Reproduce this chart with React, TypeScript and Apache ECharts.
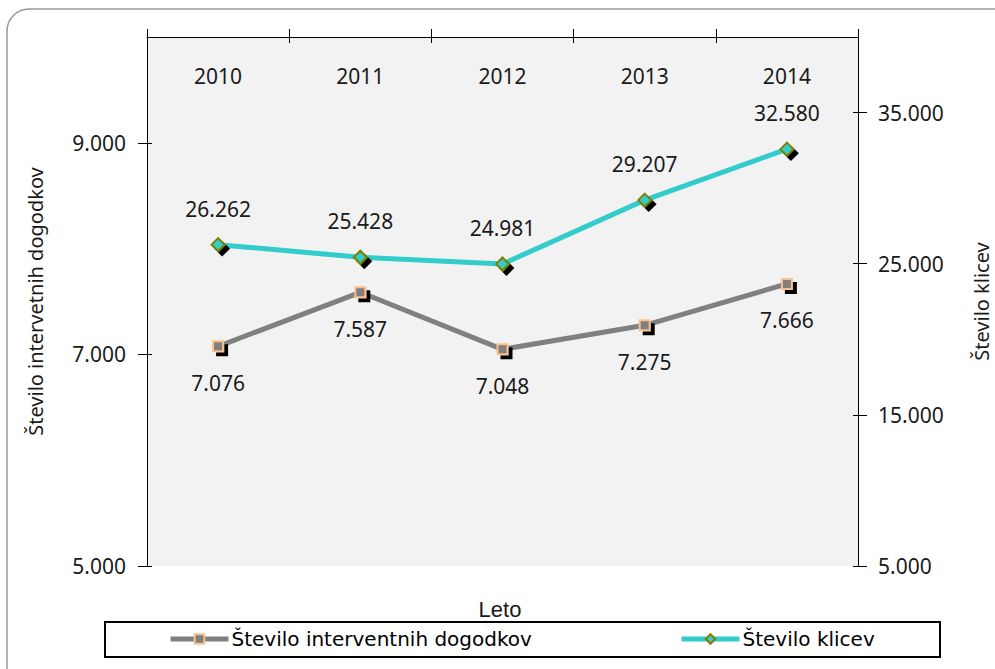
import React, { useEffect, useRef } from "react";
import * as echarts from "echarts";

const years = ["2010", "2011", "2012", "2013", "2014"];
const interventions = [7076, 7587, 7048, 7275, 7666];
const calls = [26262, 25428, 24981, 29207, 32580];
const leftTicks = [5000, 7000, 9000];
const rightTicks = [5000, 15000, 25000, 35000];

const seriesNames = ["Število interventnih dogodkov", "Število klicev"];
const leftAxisName = "Število intervetnih dogodkov";
const rightAxisName = "Število klicev";
const xAxisTitle = "Leto";

const fmt = (v: number) => String(Math.round(v)).replace(/\B(?=(\d{3})+(?!\d))/g, ".");

const FONT = "Noto Sans";
const TXT = "#1a1a1a";
const FS = 21;

export default function App() {
  const ref = useRef<HTMLDivElement>(null);
  useEffect(() => {
    if (!ref.current) return;
    const chart = echarts.init(ref.current, null, { renderer: "svg" });
    const yBase = (pos: "left" | "right", min: number, max: number, ticks: number[], inside: boolean, name?: string) => ({
      type: "value",
      position: pos,
      min,
      max,
      name: inside ? undefined : name,
      nameLocation: "middle",
      nameGap: pos === "left" ? 102 : 113,
      nameRotate: 90,
      nameTextStyle: { fontFamily: FONT, fontSize: 20, color: TXT },
      splitLine: { show: false },
      axisLine: { show: !inside, lineStyle: { color: "#000", width: 1 } },
      axisTick: { show: true, inside, length: inside ? 5 : 9, customValues: ticks, lineStyle: { color: "#000", width: 1 } },
      axisLabel: {
        show: !inside,
        customValues: ticks,
        formatter: (v: number) => fmt(v),
        margin: pos === "left" ? 21 : 20,
        fontFamily: FONT,
        fontSize: FS,
        color: TXT,
      },
    });
    const legendCommon = {
      top: 629,
      itemWidth: 58,
      itemHeight: 12,
      itemGap: 0,
      padding: 0,
      textStyle: { fontFamily: "DejaVu Sans", fontSize: 20, color: "#000", padding: [0, 0, 0, -2] },
      lineStyle: { width: 5 },
      itemStyle: { shadowBlur: 0, shadowOffsetX: 0, shadowOffsetY: 0, shadowColor: "rgba(0,0,0,0)" },
    };
    const option: any = {
      animation: false,
      backgroundColor: "#fff",
      grid: {
        left: 147,
        right: 137,
        top: 37,
        bottom: 103,
        show: true,
        backgroundColor: "#f2f2f2",
        borderWidth: 0,
        containLabel: false,
        outerBoundsMode: "none",
      },
      xAxis: [
        {
          type: "category",
          data: years,
          position: "top",
          boundaryGap: true,
          axisLine: { show: true, lineStyle: { color: "#000", width: 1 } },
          axisTick: { show: true, length: 8, lineStyle: { color: "#000" } },
          axisLabel: { inside: true, margin: 28, fontFamily: FONT, fontSize: FS, color: TXT },
          splitLine: { show: false },
        },
        {
          type: "category",
          data: years,
          position: "top",
          boundaryGap: true,
          axisLine: { show: false },
          axisTick: { show: true, inside: true, length: 6, lineStyle: { color: "#000" } },
          axisLabel: { show: false },
          splitLine: { show: false },
        },
      ],
      yAxis: [
        yBase("left", 5000, 10000, leftTicks, false, leftAxisName),
        yBase("right", 5000, 40000, rightTicks, false, rightAxisName),
        yBase("left", 5000, 10000, leftTicks, true),
        yBase("right", 5000, 40000, rightTicks, true),
      ],
      legend: [
        { ...legendCommon, data: [seriesNames[0]], left: 168 },
        { ...legendCommon, data: [seriesNames[1]], left: 679 },
      ],
      graphic: [
        {
          type: "rect",
          z: -10,
          shape: { x: 7, y: 9, width: 1020, height: 720, r: 22 },
          style: { fill: "transparent", stroke: "#999999", lineWidth: 1.5 },
        },
        {
          type: "rect",
          z: 0,
          shape: { x: 105, y: 622, width: 835, height: 35 },
          style: { fill: "#fff", stroke: "#000", lineWidth: 2 },
        },
        {
          type: "text",
          x: 500,
          y: 609,
          style: { text: xAxisTitle, fontFamily: "Liberation Sans", fontSize: 22, fill: TXT, align: "center", verticalAlign: "middle" },
        },
      ],
      series: [
        {
          name: seriesNames[0],
          type: "line",
          data: interventions,
          xAxisIndex: 0,
          yAxisIndex: 0,
          symbol: "rect",
          symbolSize: 10,
          lineStyle: { color: "#808080", width: 5 },
          itemStyle: {
            color: "#808080",
            borderColor: "#fac090",
            borderWidth: 2,
            shadowColor: "#000",
            shadowBlur: 0,
            shadowOffsetX: 4,
            shadowOffsetY: 4,
          },
          label: {
            show: true,
            position: "bottom",
            distance: 20,
            formatter: (p: any) => fmt(p.value),
            fontFamily: FONT,
            fontSize: FS,
            color: TXT,
          },
          z: 3,
        },
        {
          name: seriesNames[1],
          type: "line",
          data: calls,
          xAxisIndex: 0,
          yAxisIndex: 1,
          symbol: "diamond",
          symbolSize: 13,
          lineStyle: { color: "#33cccc", width: 5 },
          itemStyle: {
            color: "#33cccc",
            borderColor: "#808000",
            borderWidth: 2,
            shadowColor: "#000",
            shadowBlur: 0,
            shadowOffsetX: 4,
            shadowOffsetY: 4,
          },
          label: {
            show: true,
            position: "top",
            distance: 18,
            formatter: (p: any) => fmt(p.value),
            fontFamily: FONT,
            fontSize: FS,
            color: TXT,
          },
          z: 3,
        },
      ],
    };
    chart.setOption(option);
    return () => chart.dispose();
  }, []);
  return <div ref={ref} style={{ position: "absolute", left: 0, top: 0, width: 995, height: 669 }} />;
}
